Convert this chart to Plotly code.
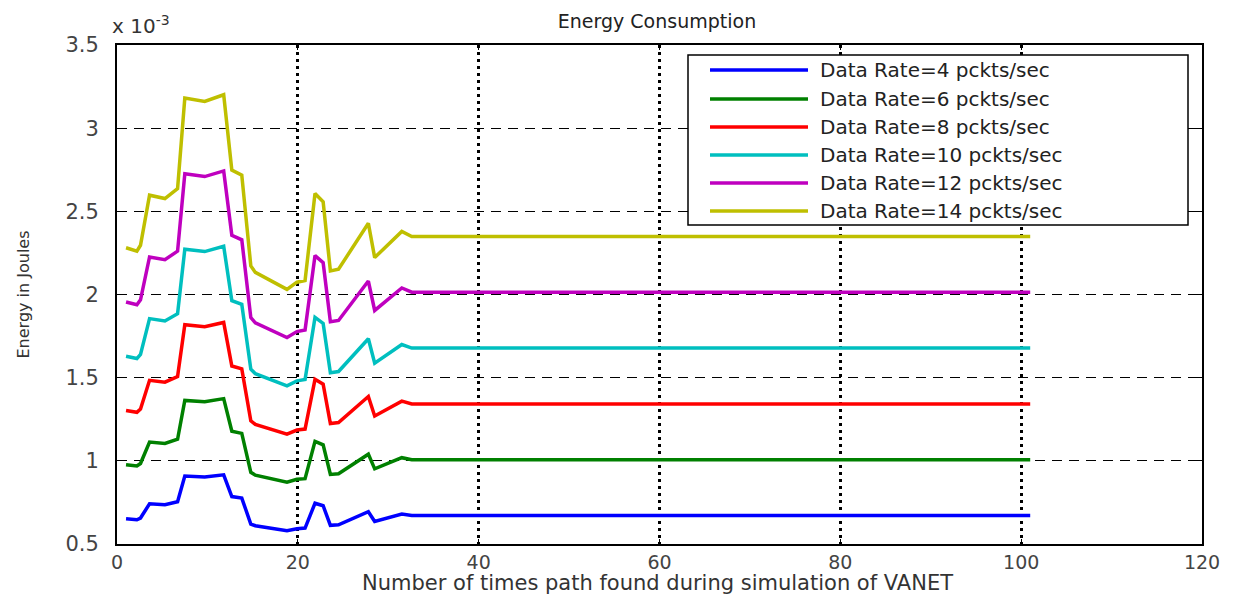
import plotly.graph_objects as go

# Sample positions (number of times a path was found) shared by every curve
path_count = [1, 2.2, 2.6, 3.6, 5.3, 6.7, 7.5, 9.7, 11.8, 12.7, 13.8, 14.8, 15.3,
              18.8, 19.9, 20.8, 21.9, 22.8, 23.6, 24.5, 27.8, 28.5, 31.5, 32.6, 101]

# Energy in Joules (x 1e-3) for each data rate
rate_4 = [0.652, 0.646, 0.656, 0.742, 0.736, 0.754, 0.909, 0.903, 0.916, 0.785, 0.776, 0.620, 0.610,
          0.580, 0.592, 0.596, 0.745, 0.730, 0.612, 0.615, 0.694, 0.635, 0.680, 0.671, 0.671]
rate_6 = [0.977, 0.969, 0.984, 1.113, 1.105, 1.130, 1.363, 1.355, 1.374, 1.178, 1.165, 0.931, 0.914,
          0.871, 0.889, 0.893, 1.117, 1.096, 0.918, 0.922, 1.040, 0.952, 1.019, 1.007, 1.007]
rate_8 = [1.303, 1.292, 1.312, 1.484, 1.473, 1.507, 1.818, 1.806, 1.832, 1.570, 1.553, 1.241, 1.219,
          1.161, 1.185, 1.191, 1.490, 1.461, 1.224, 1.230, 1.387, 1.270, 1.359, 1.342, 1.342]
rate_10 = [1.629, 1.615, 1.640, 1.855, 1.841, 1.884, 2.272, 2.258, 2.290, 1.963, 1.941, 1.551, 1.524,
           1.451, 1.481, 1.489, 1.862, 1.826, 1.530, 1.537, 1.734, 1.587, 1.699, 1.678, 1.678]
rate_12 = [1.955, 1.938, 1.968, 2.226, 2.209, 2.261, 2.726, 2.709, 2.743, 2.356, 2.329, 1.861, 1.829,
           1.741, 1.777, 1.787, 2.234, 2.191, 1.836, 1.844, 2.081, 1.904, 2.039, 2.014, 2.014]
rate_14 = [2.281, 2.261, 2.296, 2.597, 2.577, 2.637, 3.181, 3.161, 3.201, 2.748, 2.718, 2.172, 2.133,
           2.031, 2.074, 2.084, 2.607, 2.557, 2.142, 2.152, 2.428, 2.222, 2.379, 2.349, 2.349]

series_names = ["Data Rate=4 pckts/sec", "Data Rate=6 pckts/sec", "Data Rate=8 pckts/sec",
                "Data Rate=10 pckts/sec", "Data Rate=12 pckts/sec", "Data Rate=14 pckts/sec"]
series_values = [rate_4, rate_6, rate_8, rate_10, rate_12, rate_14]
series_colors = ["#0000FF", "#008000", "#FF0000", "#00BFBF", "#BF00BF", "#BFBF00"]

x_ticks = [0, 20, 40, 60, 80, 100, 120]
y_ticks = [0.5, 1, 1.5, 2, 2.5, 3, 3.5]
y_tick_text = ["0.5", "1", "1.5", "2", "2.5", "3", "3.5"]

W, H = 1233, 596
M_L, M_R, M_T, M_B = 117, 31, 45, 52
PLOT_W = W - M_L - M_R
PLOT_H = H - M_T - M_B
FONT = "DejaVu Sans"


def px_to_paper_x(px):
    return (px - M_L) / PLOT_W


def py_to_paper_y(py):
    return (H - M_B - py) / PLOT_H


fig = go.Figure()
for name, vals, col in zip(series_names, series_values, series_colors):
    fig.add_trace(go.Scatter(x=path_count, y=vals, mode="lines", name=name,
                             line=dict(color=col, width=3.5), showlegend=False))

# Boxed legend with long line samples
shapes = [dict(type="rect", xref="paper", yref="paper",
               x0=px_to_paper_x(688), x1=px_to_paper_x(1188),
               y0=py_to_paper_y(225), y1=py_to_paper_y(55),
               line=dict(color="black", width=1.5), fillcolor="white", layer="above")]
annotations = []
row_y = [70, 99, 127, 155, 183, 211]
for name, col, ry in zip(series_names, series_colors, row_y):
    shapes.append(dict(type="line", xref="paper", yref="paper",
                       x0=px_to_paper_x(710), x1=px_to_paper_x(808),
                       y0=py_to_paper_y(ry), y1=py_to_paper_y(ry),
                       line=dict(color=col, width=3.5), layer="above"))
    annotations.append(dict(text=name, xref="paper", yref="paper",
                            x=px_to_paper_x(818), y=py_to_paper_y(ry),
                            xanchor="left", yanchor="middle", showarrow=False,
                            font=dict(family=FONT, size=20, color="#222222")))

# Exponent label for the y axis
annotations.append(dict(text="x 10<sup>-3</sup>", xref="paper", yref="paper",
                        x=px_to_paper_x(110), y=py_to_paper_y(40),
                        xanchor="left", yanchor="bottom", showarrow=False,
                        font=dict(family=FONT, size=20, color="#333333")))

# X axis title placed below the tick labels
annotations.append(dict(text="Number of times path found during simulation of VANET",
                        xref="paper", yref="paper",
                        x=px_to_paper_x(657), y=py_to_paper_y(583),
                        xanchor="center", yanchor="middle", showarrow=False,
                        font=dict(family=FONT, size=21, color="#333333")))

fig.update_layout(
    width=W, height=H,
    margin=dict(l=M_L, r=M_R, t=M_T, b=M_B, autoexpand=False),
    paper_bgcolor="white", plot_bgcolor="white",
    title=dict(text="Energy Consumption", x=657 / W,
               xanchor="center", y=1 - 21 / H, yanchor="middle",
               font=dict(family=FONT, size=19, color="#222222")),
    shapes=shapes, annotations=annotations,
    showlegend=False,
)

fig.update_xaxes(
    range=[0, 120], tickvals=x_ticks, ticks="inside", ticklen=5, tickcolor="black",
    showline=True, linecolor="black", linewidth=2, mirror="ticks",
    showgrid=True, gridcolor="black", gridwidth=2.5, griddash="3px,4px",
    zeroline=False, tickfont=dict(family=FONT, size=19, color="#444444"),
    ticklabelstandoff=0,
)
fig.update_yaxes(
    range=[0.5, 3.5], tickvals=y_ticks, ticktext=y_tick_text, ticks="inside", ticklen=5,
    tickcolor="black", showline=True, linecolor="black", linewidth=2, mirror="ticks",
    showgrid=True, gridcolor="black", gridwidth=1.3, griddash="10px,7px",
    zeroline=False, tickfont=dict(family=FONT, size=21, color="#444444"),
    ticklabelstandoff=12,
    title=dict(text="Energy in Joules", font=dict(family=FONT, size=16, color="#333333"),
               standoff=32),
)

fig.write_html("out.html")
